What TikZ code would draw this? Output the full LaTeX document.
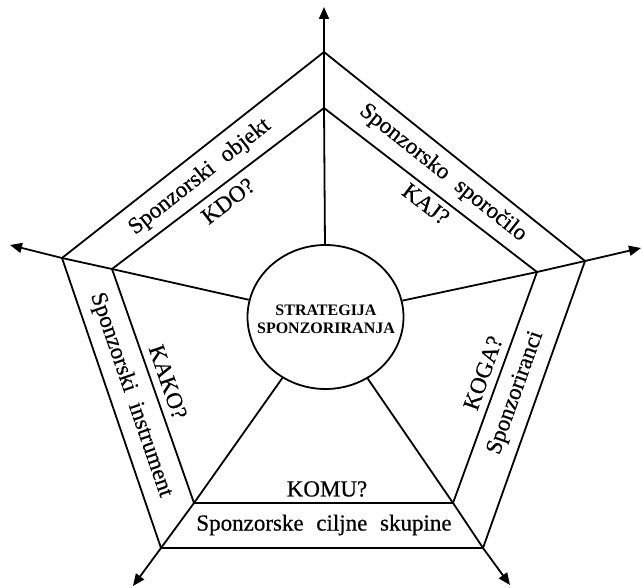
\documentclass[tikz,border=0pt]{standalone}
\usepackage{fontspec}
\setmainfont{Liberation Serif}[WordSpace=2.2]
\newfontfamily\lblfont{Liberation Serif}[WordSpace=2.2,FakeBold=0.5]
\usetikzlibrary{shapes.geometric,arrows.meta}
\begin{document}
\begin{tikzpicture}[x=1pt,y=-1pt,
  edge/.style={line width=1.8pt, line join=miter},
  spoke/.style={line width=1.8pt, -{Triangle[length=12pt,width=10pt]}},
  lbl/.style={font=\lblfont\fontsize{23}{26}\selectfont, inner sep=0pt},
  hubtext/.style={font=\fontsize{16}{18}\selectfont\bfseries, align=center, inner sep=0pt},
  hub/.style={ellipse, draw, line width=1.8pt, minimum width=156pt, minimum height=144pt, inner sep=0pt}]
\useasboundingbox (0,0) rectangle (642,588);
% outer pentagon
\coordinate (o1) at (324,52);
\coordinate (o2) at (585,261);
\coordinate (o3) at (483,548);
\coordinate (o4) at (161,548);
\coordinate (o5) at (62,258);
% inner pentagon
\coordinate (i1) at (324,108);
\coordinate (i2) at (537,272);
\coordinate (i3) at (453,503);
\coordinate (i4) at (194,503);
\coordinate (i5) at (112,269);
% arrow tips
\coordinate (t1) at (324,7);
\coordinate (t2) at (641,248);
\coordinate (t3) at (510,585);
\coordinate (t4) at (133,586);
\coordinate (t5) at (10,245);
% hub
\node[hub] (hub) at (325.5,317) {};
\node[hubtext] (hubt) at (326,319) {STRATEGIJA\\SPONZORIRANJA};
% pentagons
\draw[edge] (o1) -- (o2) -- (o3) -- (o4) -- (o5) -- cycle;
\draw[edge] (i1) -- (i2) -- (i3) -- (i4) -- (i5) -- cycle;
% spokes
\draw[spoke] (hub) -- (i1) -- (o1) -- (t1);
\draw[spoke] (hub) -- (i2) -- (o2) -- (t2);
\draw[spoke] (hub) -- (i3) -- (o3) -- (t3);
\draw[spoke] (hub) -- (i4) -- (o4) -- (t4);
\draw[spoke] (hub) -- (i5) -- (o5) -- (t5);
% labels
\node[lbl, rotate=38.2] (objekt) at (200,177) {Sponzorski objekt};
\node[lbl, rotate=37.5] (kdo) at (228,201) {KDO?};
\node[lbl, rotate=-38.5] (sporocilo) at (443,173) {Sponzorsko sporočilo};
\node[lbl, rotate=-37.6] (kaj) at (426,204) {KAJ?};
\node[lbl, rotate=-71] (instrument) at (131,395) {Sponzorski instrument};
\node[lbl, rotate=-71] (kako) at (168,382) {KAKO?};
\node[lbl, rotate=70.4] (sponzoriranci) at (516,393) {Sponzoriranci};
\node[lbl, rotate=70.4] (koga) at (483,373) {KOGA?};
\node[lbl] (komu) at (327,489) {KOMU?};
\node[lbl] (ciljne) at (324,525) {Sponzorske ciljne skupine};
\end{tikzpicture}
\end{document}
